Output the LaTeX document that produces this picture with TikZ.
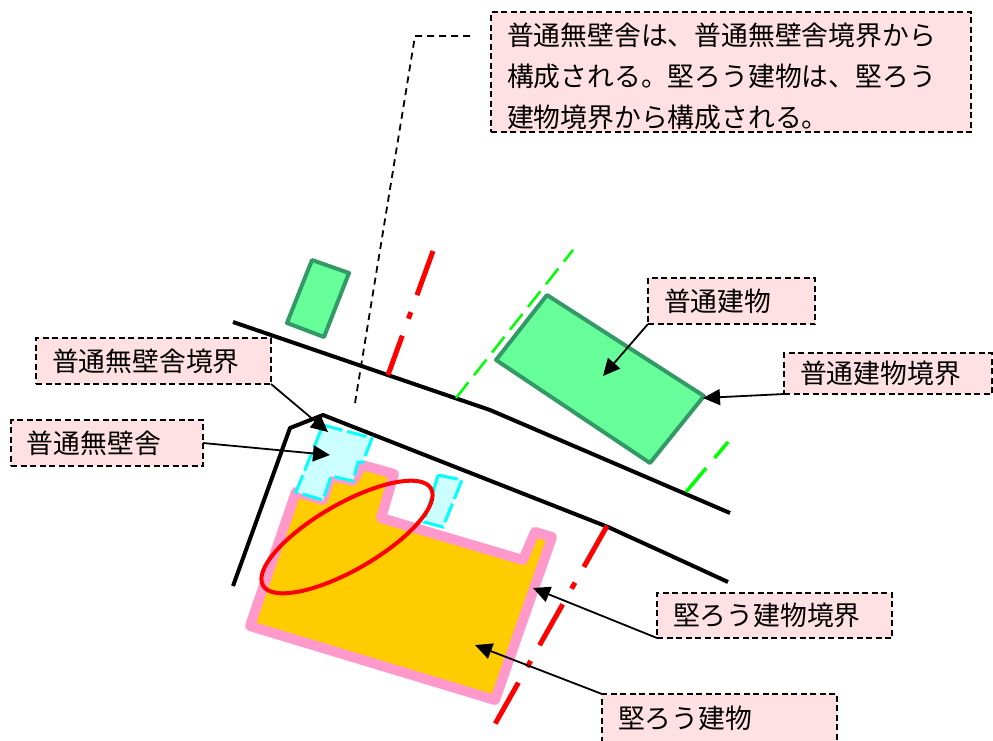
\documentclass[tikz,border=0pt]{standalone}
\usepackage{fontspec}
\setmainfont{Noto Sans CJK JP}
\usetikzlibrary{arrows.meta}
\definecolor{notefill}{HTML}{FFE1E3}
\definecolor{shedfill}{HTML}{CCFFFF}
\definecolor{shedline}{HTML}{00FFFF}
\definecolor{fireproofedge}{HTML}{FF99CC}
\definecolor{fireproofcore}{HTML}{FFCC00}
\definecolor{plainfill}{HTML}{66FF99}
\definecolor{plainedge}{HTML}{339966}
\tikzstyle{note}=[draw,dash pattern=on 6pt off 3.5pt,line width=2.3pt,fill=notefill,inner sep=0pt,outer sep=0pt,inner xsep=16pt,anchor=north west,align=left,font=\fontsize{26.8}{41}\selectfont]
\tikzstyle{callout}=[line width=1.8pt,-{Triangle[length=17pt,width=16pt]}]
\tikzstyle{road}=[line width=4pt,line join=round]
\tikzstyle{plainbuilding}=[draw=plainedge,fill=plainfill,line width=4pt,line join=round]
\tikzstyle{shed}=[draw=shedline,fill=shedfill,line width=3pt,dash pattern=on 20pt off 5pt]
\tikzstyle{redline}=[red,line width=5pt,dash pattern=on 47pt off 18pt on 7pt off 18pt]
\newcommand{\drawnote}[6]{
\node[note,text width=#4-32pt,minimum height=#5] (#1) at (#2,#3) {#6};
}
\begin{document}
\begin{tikzpicture}[x=1pt,y=-1pt]
	\useasboundingbox (0,0) rectangle (993,740);
	% roads
	\draw[road] (233,322) -- (490,410) -- (730,513);
	\draw[road] (233,586) -- (290,428) -- (323,415) -- (608,527) -- (665,553) -- (728,582);
	% boundary lines
	\draw[redline] (433,251) -- (388,375);
	\draw[redline] (607,526) -- (495,724);
	\draw[green,line width=2.5pt,dash pattern=on 20pt off 9pt] (456,398) -- (573,250);
	\draw[green,line width=3.5pt,dash pattern=on 21pt off 13pt on 40pt off 9pt] (728,442) -- (686,492);
	\draw[line width=1.8pt,dash pattern=on 7pt off 5pt] (355,403) -- (415,36) -- (473,36);
	% buildings
	\draw[plainbuilding] (312,260) -- (349,273) -- (324,337) -- (287,323) -- cycle;
	\draw[plainbuilding] (547,295) -- (704,396) -- (650,463) -- (496,360) -- cycle;
	\draw[draw=fireproofedge,fill=fireproofcore,line width=10pt,line join=round] (250,626) -- (495,700) -- (552,537) -- (535,532) -- (523,560) -- (381,518) -- (394,474) -- (362,465) -- (353,481) -- (331,476) -- (323,500) -- (296,492) -- cycle;
	\draw[shed] (323,425) -- (372,438) -- (363,462) -- (358,462) -- (353,481) -- (331,476) -- (323,500) -- (296,492) -- cycle;
	\draw[shed] (438,475) -- (462,480) -- (443,527) -- (424,522) -- cycle;
	\draw[red,line width=4pt,rotate around={30:(347,537)}] (347,537) ellipse (97 and 33);
	% labels
	\drawnote{noteTop}{491}{12}{480pt}{120pt}{\rule{0pt}{31pt}普通無壁舎は、普通無壁舎境界から\\構成される。堅ろう建物は、堅ろう\\建物境界から構成される。}
	\drawnote{notePlain}{648}{278}{167pt}{46pt}{普通建物}
	\drawnote{notePlainLine}{784}{353}{208pt}{41pt}{普通建物境界}
	\drawnote{noteShedLine}{36}{338}{235pt}{46pt}{普通無壁舎境界}
	\drawnote{noteShed}{11}{420}{192pt}{46pt}{普通無壁舎}
	\drawnote{noteFireLine}{657}{593}{235pt}{45pt}{堅ろう建物境界}
	\drawnote{noteFire}{602}{694}{235pt}{48pt}{堅ろう建物}
	% arrows
	\coordinate (tipPlain) at (603,376);
	\coordinate (tipPlainLine) at (703,398);
	\coordinate (tipShedLine) at (328,432);
	\coordinate (tipShed) at (330,455);
	\coordinate (tipFireLine) at (533,588);
	\coordinate (tipFire) at (475,645);
	\draw[callout] (notePlain.south west) -- (tipPlain);
	\draw[callout] (notePlainLine.south west) -- (tipPlainLine);
	\draw[callout] (noteShedLine.south east) -- (tipShedLine);
	\draw[callout] (noteShed.east) -- (tipShed);
	\draw[callout] (noteFireLine.south west) -- (tipFireLine);
	\draw[callout] (noteFire.north west) -- (tipFire);
\end{tikzpicture}
\end{document}
